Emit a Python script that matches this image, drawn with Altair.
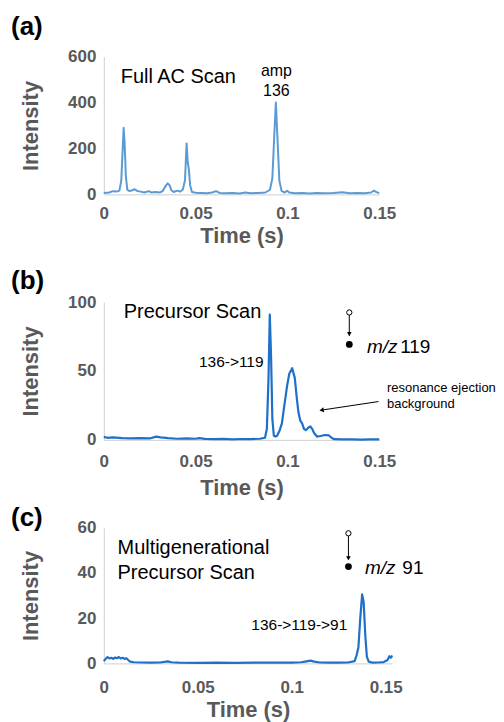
import altair as alt
import pandas as pd

FONT = "Liberation Sans"
GREY = "#595959"

# ---------------- Panel (a): Full AC Scan ----------------
a_time = [0, 0.003, 0.005, 0.007, 0.0085, 0.0095, 0.0103, 0.0108, 0.0113, 0.012, 0.0128,
          0.014, 0.0155, 0.0168, 0.0185, 0.02, 0.022, 0.0246, 0.026, 0.028, 0.0305, 0.032,
          0.0338, 0.0348, 0.0358, 0.0368, 0.038, 0.040, 0.0415, 0.043, 0.0442, 0.0451, 0.0457,
          0.0463, 0.047, 0.048, 0.050, 0.053, 0.056, 0.059, 0.0612, 0.063, 0.066, 0.070, 0.074,
          0.077, 0.080, 0.084, 0.088, 0.0905, 0.0918, 0.0928, 0.0937, 0.0946, 0.0956, 0.0968,
          0.0985, 0.0998, 0.101, 0.104, 0.108, 0.112, 0.116, 0.120, 0.125, 0.130, 0.134, 0.138,
          0.142, 0.1455, 0.1472, 0.1485, 0.150]
a_int = [6, 8, 14, 12, 16, 60, 200, 290, 230, 80, 20,
         14, 18, 22, 14, 12, 8, 14, 8, 10, 8, 14,
         38, 48, 40, 18, 10, 16, 12, 20, 60, 222, 140,
         110, 40, 10, 7, 6, 5, 8, 14, 6, 5, 6, 4,
         8, 5, 6, 8, 20, 70, 250, 400, 240, 60, 15,
         8, 16, 8, 5, 6, 4, 6, 5, 6, 9, 5, 6,
         5, 8, 16, 10, 5]

a_labels = ["Full AC Scan", "amp", "136"]
a_label_t = [0.0092, 0.094, 0.094]
a_label_v = [487, 517, 427]
a_label_size = [20, 16, 16]
a_label_align = ["left", "center", "center"]

# ---------------- Panel (b): Precursor Scan ----------------
b_time = [0, 0.002, 0.005, 0.01, 0.015, 0.02, 0.025, 0.0285, 0.031, 0.035, 0.04, 0.045,
          0.05, 0.052, 0.055, 0.06, 0.065, 0.07, 0.075, 0.08, 0.085, 0.0878, 0.0888, 0.0897,
          0.0904, 0.0911, 0.0918, 0.0926, 0.0935, 0.0944, 0.0958, 0.097, 0.098, 0.0998,
          0.101, 0.1026, 0.104, 0.1052, 0.106, 0.107, 0.108, 0.109, 0.110, 0.1115, 0.1125,
          0.1135, 0.1145, 0.1161, 0.118, 0.1205, 0.1225, 0.124, 0.1255,
          0.13, 0.135, 0.14, 0.145, 0.15]
b_int = [2.2, 1.5, 1.8, 1.2, 1.0, 1.3, 1.0, 2.3, 1.8, 1.2, 0.8, 1.0,
         0.8, 1.3, 0.7, 0.5, 0.7, 0.4, 0.6, 0.5, 0.8, 1.5, 8, 45,
         91, 60, 15, 3, 2.4, 3, 7, 12, 22, 39,
         48, 52, 45, 29, 20, 14, 12, 8, 7, 9, 9.7,
         8, 5, 2.4, 2.8, 3.5, 3.3, 1.5, 0.5,
         0.3, 0.3, 0.2, 0.3, 0.3]

b_labels = ["Precursor Scan", "136->119", "m/z", "119", "resonance ejection", "background"]
b_label_t = [0.0109, 0.0870, 0.1433, 0.1614, 0.1542, 0.1542]
b_label_v = [88.4, 53.1, 62.8, 62.8, 35.0, 23.2]
b_label_size = [20, 15.5, 19, 19, 13, 13]
b_label_align = ["left", "right", "left", "left", "left", "left"]
b_label_style = ["normal", "normal", "italic", "normal", "normal", "normal"]

b_icon_t = 0.1337
b_open_v = 92.5
b_rule_v = [90.6, 75.5]
b_head_v = 76.8
b_fill_v = 69.3
b_arrow_t = [0.1496, 0.1186]
b_arrow_v = [27.8, 21.6]

# ---------------- Panel (c): Multigenerational Precursor Scan ----------------
c_time = [0, 0.001, 0.002, 0.003, 0.004, 0.005, 0.006, 0.007, 0.008, 0.009, 0.010, 0.011,
          0.012, 0.013, 0.014, 0.016, 0.02, 0.025, 0.03, 0.034, 0.036, 0.04, 0.05, 0.06,
          0.07, 0.08, 0.09, 0.1, 0.105, 0.108, 0.110, 0.112, 0.115, 0.12, 0.125, 0.13,
          0.1335, 0.1345, 0.1355, 0.1365, 0.1375, 0.1383, 0.1392, 0.140, 0.141, 0.143,
          0.146, 0.149, 0.151, 0.152, 0.1528, 0.1535]
c_int = [1.0, 2.0, 2.8, 2.2, 2.5, 2.0, 2.6, 2.3, 2.8, 2.2, 2.5, 2.0,
         2.3, 1.5, 0.8, 0.5, 0.4, 0.3, 0.4, 0.9, 0.5, 0.3, 0.2, 0.3,
         0.2, 0.3, 0.4, 0.3, 0.5, 0.9, 1.2, 0.8, 0.4, 0.3, 0.3, 0.4,
         1.0, 3.5, 7, 20, 30.5, 27, 12, 3, 0.8, 0.3,
         0.4, 0.6, 1.5, 3.2, 2.5, 3.5]

c_labels = ["Multigenerational", "Precursor Scan", "136->119->91", "m/z", "91"]
c_label_t = [0.0073, 0.0073, 0.1296, 0.139, 0.1589]
c_label_v = [48.4, 37.4, 14.6, 39.3, 39.3]
c_label_size = [20, 20, 15.5, 19, 19]
c_label_align = ["left", "left", "right", "left", "left"]
c_label_style = ["normal", "normal", "normal", "italic", "normal"]

c_icon_t = 0.1302
c_open_v = 57.5
c_rule_v = [56.3, 46.0]
c_head_v = 46.5
c_fill_v = 42.8


def texts(labels, ts, vs, sizes, aligns, styles=None):
    layers = []
    for i, lab in enumerate(labels):
        df = pd.DataFrame({"t": [ts[i]], "v": [vs[i]], "label": [lab]})
        style = styles[i] if styles else "normal"
        layers.append(
            alt.Chart(df).mark_text(
                align=aligns[i], baseline="alphabetic", font=FONT,
                fontSize=sizes[i], fontStyle=style, color="black"
            ).encode(x="t:Q", y="v:Q", text="label:N")
        )
    return layers


def icon(t, open_v, rule_v, head_v, fill_v):
    op = alt.Chart(pd.DataFrame({"t": [t], "v": [open_v]})).mark_point(
        shape="circle", filled=False, color="black", size=28, strokeWidth=1, opacity=1)
    op = op.encode(x="t:Q", y="v:Q")
    rl = alt.Chart(pd.DataFrame({"t": [t], "v": [rule_v[0]], "v2": [rule_v[1]]})).mark_rule(
        color="black", strokeWidth=1).encode(x="t:Q", y="v:Q", y2="v2:Q")
    hd = alt.Chart(pd.DataFrame({"t": [t], "v": [head_v]})).mark_point(
        shape="triangle-down", filled=True, color="black", size=22, opacity=1).encode(x="t:Q", y="v:Q")
    fl = alt.Chart(pd.DataFrame({"t": [t], "v": [fill_v]})).mark_point(
        shape="circle", filled=True, color="black", size=46, opacity=1).encode(x="t:Q", y="v:Q")
    return [op, rl, hd, fl]


def panel(time, inten, color, xdom, ydom, yticks, w, h, title, extra,
          xlabpad, xtitlepad, xtitle, title_offset, sw=2):
    df = pd.DataFrame({"t": time, "v": inten})
    x = alt.X("t:Q", scale=alt.Scale(domain=xdom, nice=False, zero=False),
              axis=alt.Axis(values=[0, 0.05, 0.1, 0.15], labelExpr="datum.value",
                            title=xtitle, labelPadding=xlabpad, titlePadding=xtitlepad,
                            labelOverlap=False, labelFlush=False, titleLineHeight=16))
    y = alt.Y("v:Q", scale=alt.Scale(domain=ydom, nice=False),
              axis=alt.Axis(values=yticks, title="Intensity", labelPadding=8, titleX=-61,
                            labelFlush=False))
    line = alt.Chart(df).mark_line(color=color, strokeWidth=sw, strokeJoin="round").encode(x=x, y=y)
    return alt.layer(line, *extra).properties(
        width=w, height=h,
        title=alt.TitleParams(title, anchor="start", frame="bounds", font=FONT, fontSize=26,
                              fontWeight="bold", color="black", offset=title_offset, dx=-9),
    )


a_extra = texts(a_labels, a_label_t, a_label_v, a_label_size, a_label_align)
chart_a = panel(a_time, a_int, "#5b9bd5", [0, 0.15], [0, 600], [0, 200, 400, 600],
                276, 138, "(a)", a_extra, 11, 4, ["Time (s)", ""], 8)

arrow_df = pd.DataFrame({"t": [b_arrow_t[0]], "v": [b_arrow_v[0]],
                         "t2": [b_arrow_t[1]], "v2": [b_arrow_v[1]]})
b_arrow = alt.Chart(arrow_df).mark_rule(color="black", strokeWidth=1).encode(
    x="t:Q", y="v:Q", x2="t2:Q", y2="v2:Q")
b_head = alt.Chart(pd.DataFrame({"t": [b_arrow_t[1]], "v": [b_arrow_v[1]]})).mark_point(
    shape="triangle-left", filled=True, color="black", size=24, angle=351.5, opacity=1
).encode(x="t:Q", y="v:Q")
b_extra = texts(b_labels, b_label_t, b_label_v, b_label_size, b_label_align, b_label_style) + \
    icon(b_icon_t, b_open_v, b_rule_v, b_head_v, b_fill_v) + [b_arrow, b_head]
chart_b = panel(b_time, b_int, "#1e70c8", [0, 0.15], [0, 100], [0, 50, 100],
                276, 138, "(b)", b_extra, 14, 8, "Time (s)", -1, sw=2.2)

c_extra = texts(c_labels, c_label_t, c_label_v, c_label_size, c_label_align, c_label_style) + \
    icon(c_icon_t, c_open_v, c_rule_v, c_head_v, c_fill_v)
chart_c = panel(c_time, c_int, "#1e70c8", [0, 0.1535], [0, 60], [0, 20, 40, 60],
                289, 136, "(c)", c_extra, 16, 4, "Time (s)", -12, sw=2.2)

chart = alt.vconcat(chart_a, chart_b, chart_c, spacing=6).properties(
    padding={"left": 3, "top": 5, "right": 0, "bottom": 2}
).configure_view(stroke=None).configure_axis(
    grid=False, ticks=False, domainColor="#d0d0d0", domainWidth=1,
    labelFont=FONT, labelFontSize=17, labelFontWeight="bold", labelColor=GREY,
    titleFont=FONT, titleFontSize=22, titleFontWeight="bold", titleColor=GREY,
).configure_concat(spacing=6)

chart.save("out.html", embed_options={"renderer": "svg", "actions": False})
